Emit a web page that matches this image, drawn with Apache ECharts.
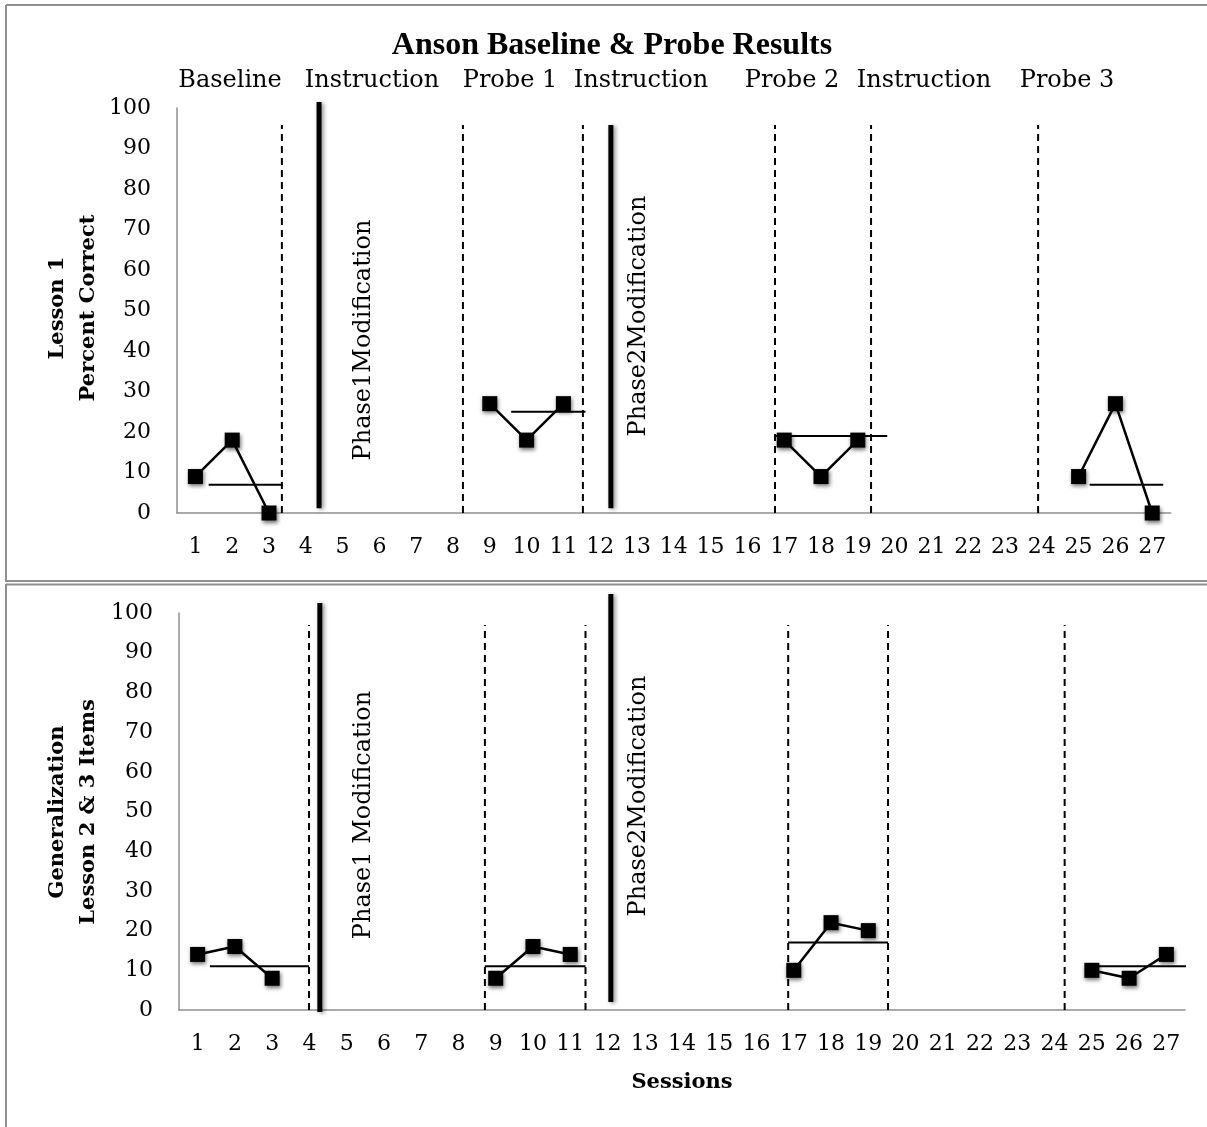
<!DOCTYPE html>
<html><head><meta charset="utf-8">
<script src="https://cdn.jsdelivr.net/npm/echarts@6/dist/echarts.min.js"></script>
<style>html,body{margin:0;padding:0;background:#fff}#c{width:1207px;height:1127px}</style>
</head><body><div id="c"></div>
<script>
// ---------- data ----------
const sessions = ['1','2','3','4','5','6','7','8','9','10','11','12','13','14','15','16','17','18','19','20','21','22','23','24','25','26','27'];
const phaseNames = ['Baseline','Instruction','Probe 1','Instruction','Probe 2','Instruction','Probe 3'];
const probeStarts = [1, 9, 17, 25];

// Lesson 1 – percent correct
const lesson1Baseline = [9, 18, 0];
const lesson1Probe1 = [27, 18, 27];
const lesson1Probe2 = [18, 9, 18];
const lesson1Probe3 = [9, 27, 0];
const lesson1Levels = [7, 25, 19, 7];
const lesson1LevelSpans = [[1.36, 3.38], [9.58, 11.6], [16.78, 19.8], [25.3, 27.3]];
const lesson1Dashed = [3.35, 8.27, 11.53, 16.75, 19.36, 23.9];
const lesson1DashedTop = 95.8;
const lesson1Solid = [[4.36, 1.2, 101.5], [12.29, 1.2, 95.8]];

// Generalization – lesson 2 & 3 items
const genBaseline = [14, 16, 8];
const genProbe1 = [8, 16, 14];
const genProbe2 = [10, 22, 20];
const genProbe3 = [10, 8, 14];
const genLevels = [11, 11, 17, 11];
const genLevelSpans = [[1.33, 3.99], [8.71, 11.41], [16.85, 19.53], [24.95, 27.67]];
const genDashed = [3.99, 8.71, 11.41, 16.85, 19.53, 24.27];
const genDashedTop = 97;
const genSolid = [[4.28, -0.5, 102.5], [12.09, 2, 104.8]];

// ---------- build ----------
const SERIF = 'DejaVu Serif';
const grids = [
  {left: 177, top: 108, width: 993.6, height: 405},
  {left: 179, top: 613, width: 1006, height: 397}
];
const xAxes = [], yAxes = [];
grids.forEach((g, i) => {
  xAxes.push({
    type: 'category', gridIndex: i, data: sessions, boundaryGap: true,
    axisLine: {lineStyle: {color: '#8f8f8f', width: 1.5}},
    axisTick: {show: false},
    axisLabel: {interval: 0, fontFamily: SERIF, fontSize: 22, color: '#000', margin: 23},
    splitLine: {show: false}
  });
  xAxes.push({type: 'value', gridIndex: i, min: 0.5, max: 27.5, show: false, splitLine: {show: false}});
  yAxes.push({
    type: 'value', gridIndex: i, min: 0, max: 100, interval: 10,
    axisLine: {show: true, lineStyle: {color: '#8f8f8f', width: 1.5}},
    axisTick: {show: false},
    splitLine: {show: false},
    axisLabel: {fontFamily: SERIF, fontSize: 22, color: '#000', margin: 26}
  });
});

const series = [];
function dataSeries(gi, start, vals) {
  series.push({
    type: 'line', xAxisIndex: gi * 2 + 1, yAxisIndex: gi, clip: false, z: 6,
    data: vals.map((v, k) => [start + k, v]),
    symbol: 'rect', symbolSize: 15,
    lineStyle: {color: '#000', width: 2.5},
    itemStyle: {color: '#000', shadowBlur: 4, shadowColor: 'rgba(0,0,0,0.55)', shadowOffsetX: 1, shadowOffsetY: 2}
  });
}
function segment(gi, pts, style, z) {
  series.push({
    type: 'line', xAxisIndex: gi * 2 + 1, yAxisIndex: gi, clip: false, z: z || 4,
    data: pts, symbol: 'none', lineStyle: style, silent: true
  });
}
function buildPanel(gi, phases, levels, spans, dashed, dashedTop, solid) {
  phases.forEach((vals, k) => dataSeries(gi, probeStarts[k], vals));
  levels.forEach((lv, k) => segment(gi, [[spans[k][0], lv], [spans[k][1], lv]], {color: '#000', width: 2}, 5));
  dashed.forEach(x => segment(gi, [[x, 0], [x, dashedTop]], {color: '#000', width: 2, type: [7, 5]}, 3));
  solid.forEach(s => segment(gi, [[s[0], s[1]], [s[0], s[2]]],
    {color: '#000', width: 5, shadowBlur: 4, shadowColor: 'rgba(0,0,0,0.45)', shadowOffsetX: 2, shadowOffsetY: 1}, 3));
}
buildPanel(0, [lesson1Baseline, lesson1Probe1, lesson1Probe2, lesson1Probe3], lesson1Levels, lesson1LevelSpans, lesson1Dashed, lesson1DashedTop, lesson1Solid);
buildPanel(1, [genBaseline, genProbe1, genProbe2, genProbe3], genLevels, genLevelSpans, genDashed, genDashedTop, genSolid);

const phaseLabelX = [230, 372, 510, 641, 792, 924, 1067];
const graphic = [
  // panel borders
  {type: 'line', shape: {x1: 6, y1: 5, x2: 1207, y2: 5}, style: {stroke: '#8f8f8f', lineWidth: 2}},
  {type: 'line', shape: {x1: 6, y1: 5, x2: 6, y2: 582}, style: {stroke: '#8f8f8f', lineWidth: 2}},
  {type: 'line', shape: {x1: 6, y1: 581, x2: 1207, y2: 581}, style: {stroke: '#8f8f8f', lineWidth: 2}},
  {type: 'line', shape: {x1: 6, y1: 584.5, x2: 1207, y2: 584.5}, style: {stroke: '#8f8f8f', lineWidth: 2}},
  {type: 'line', shape: {x1: 6, y1: 584, x2: 6, y2: 1127}, style: {stroke: '#8f8f8f', lineWidth: 2}},
  // title
  {type: 'text', x: 612, y: 46, style: {text: 'Anson Baseline & Probe Results', fontFamily: 'Liberation Serif', fontWeight: 'bold', fontSize: 32, fill: '#000', align: 'center', verticalAlign: 'middle'}},
  // axis titles
  {type: 'text', x: 73, y: 308, rotation: Math.PI / 2, style: {text: 'Lesson 1\nPercent Correct', fontFamily: SERIF, fontWeight: 'bold', fontSize: 21, lineHeight: 31, fill: '#000', align: 'center', verticalAlign: 'middle'}},
  {type: 'text', x: 73, y: 812, rotation: Math.PI / 2, style: {text: 'Generalization\nLesson 2 & 3 Items', fontFamily: SERIF, fontWeight: 'bold', fontSize: 21, lineHeight: 31, fill: '#000', align: 'center', verticalAlign: 'middle'}},
  {type: 'text', x: 682, y: 1083, style: {text: 'Sessions', fontFamily: SERIF, fontWeight: 'bold', fontSize: 21, fill: '#000', align: 'center', verticalAlign: 'middle'}},
  // modification labels
  {type: 'text', x: 364, y: 340, rotation: Math.PI / 2, style: {text: 'Phase1Modification', fontFamily: SERIF, fontSize: 24, fill: '#000', align: 'center', verticalAlign: 'middle'}},
  {type: 'text', x: 639, y: 316, rotation: Math.PI / 2, style: {text: 'Phase2Modification', fontFamily: SERIF, fontSize: 24, fill: '#000', align: 'center', verticalAlign: 'middle'}},
  {type: 'text', x: 364, y: 815, rotation: Math.PI / 2, style: {text: 'Phase1 Modification', fontFamily: SERIF, fontSize: 24, fill: '#000', align: 'center', verticalAlign: 'middle'}},
  {type: 'text', x: 639, y: 796, rotation: Math.PI / 2, style: {text: 'Phase2Modification', fontFamily: SERIF, fontSize: 24, fill: '#000', align: 'center', verticalAlign: 'middle'}}
];
phaseNames.forEach((n, k) => graphic.push({type: 'text', x: phaseLabelX[k], y: 81, style: {text: n, fontFamily: SERIF, fontSize: 24, fill: '#000', align: 'center', verticalAlign: 'middle'}}));

const chart = echarts.init(document.getElementById('c'), null, {renderer: 'canvas'});
chart.setOption({
  animation: false,
  backgroundColor: '#fff',
  grid: grids,
  xAxis: xAxes,
  yAxis: yAxes,
  series: series,
  graphic: graphic
});
</script>
</body></html>
